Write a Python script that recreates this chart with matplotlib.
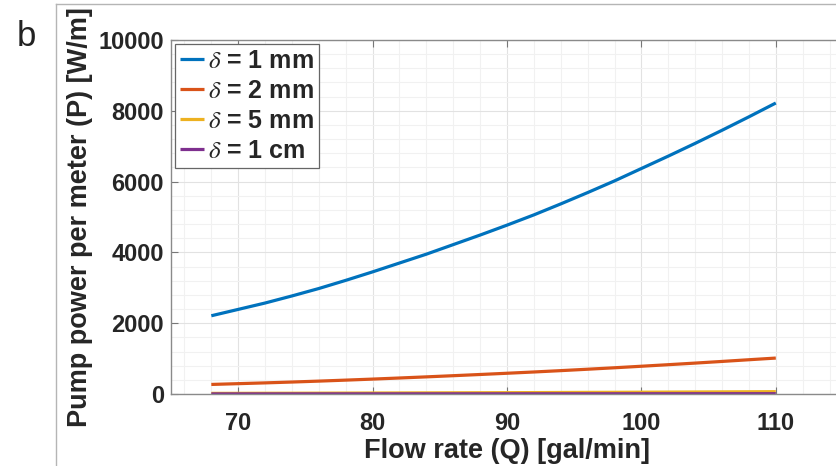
import matplotlib
matplotlib.use("Agg")
import matplotlib.pyplot as plt
from matplotlib.lines import Line2D
from matplotlib.ticker import MultipleLocator

plt.rcParams['font.family'] = ['Liberation Sans', 'DejaVu Sans']
plt.rcParams['mathtext.fontset'] = 'stix'

flow_q = [68, 70, 72, 74, 76, 78, 80, 82, 84, 86, 88, 90, 92, 94, 96, 98,
          100, 102, 104, 106, 108, 110]
p_1mm = [2210, 2390, 2570, 2770, 2980, 3210, 3450, 3700, 3950, 4220, 4490,
         4770, 5060, 5370, 5690, 6020, 6370, 6720, 7080, 7450, 7830, 8220]
p_2mm = [270, 292, 314, 338, 364, 392, 421, 452, 484, 517, 551, 586, 622,
         660, 700, 741, 784, 828, 873, 920, 968, 1015]
p_5mm = [18, 19, 21, 22, 24, 26, 28, 30, 32, 34, 36, 38, 40, 43, 46, 48,
         51, 54, 57, 60, 63, 66]
p_1cm = [2.2, 2.4, 2.6, 2.8, 3.0, 3.2, 3.5, 3.7, 4.0, 4.2, 4.5, 4.8, 5.1,
         5.4, 5.7, 6.0, 6.4, 6.7, 7.1, 7.5, 7.8, 8.2]
labels = [r'$\delta$ = 1 mm', r'$\delta$ = 2 mm', r'$\delta$ = 5 mm', r'$\delta$ = 1 cm']
colors = ['#0072BD', '#D95319', '#EDB120', '#7E2F8E']
x_ticks = [70, 80, 90, 100, 110]
y_ticks = [0, 2000, 4000, 6000, 8000, 10000]

W, H = 836, 466
fig = plt.figure(figsize=(W / 100, H / 100), dpi=100)
ax = fig.add_axes([171 / W, (H - 394) / H, 672 / W, 354 / H])

for vals, lab, c in zip([p_1mm, p_2mm, p_5mm, p_1cm], labels, colors):
    ax.plot(flow_q, vals, color=c, lw=2.3, label=lab, solid_capstyle='butt')

ax.set_xlim(65, 115)
ax.set_ylim(0, 10000)
ax.set_xticks(x_ticks)
ax.set_yticks(y_ticks)
ax.xaxis.set_minor_locator(MultipleLocator(2))
ax.yaxis.set_minor_locator(MultipleLocator(400))
ax.grid(which='major', color='#e2e2e2', lw=0.8)
ax.grid(which='minor', color='#f1f1f1', lw=0.8)
ax.set_axisbelow(True)
ax.tick_params(which='major', direction='in', length=5, width=0.8, color='#777777',
               top=True, right=True, labelsize=17, labelcolor='#262626')
ax.tick_params(which='minor', length=0, top=True, right=True)
ax.tick_params(axis='x', pad=13)
ax.tick_params(axis='y', pad=5)
for lbl in ax.get_xticklabels() + ax.get_yticklabels():
    lbl.set_fontweight('bold')
for s in ax.spines.values():
    s.set_color('#8a8a8a')
    s.set_linewidth(1.0)

ax.set_xlabel('Flow rate (Q) [gal/min]', fontsize=19.5, fontweight='bold',
              color='#262626', labelpad=2)
ax.set_ylabel('Pump power per meter (P) [W/m]', fontsize=19.5, fontweight='bold',
              color='#262626', labelpad=4)

leg = ax.legend(loc='upper left', prop={'weight': 'bold', 'size': 18},
                handlelength=0.95, handletextpad=0.18, labelspacing=0.24,
                borderpad=0.2, borderaxespad=0.15, fancybox=False, framealpha=1)
leg.get_frame().set_edgecolor('#666666')
leg.get_frame().set_linewidth(0.9)
for t in leg.get_texts():
    t.set_color('#262626')

# outer screenshot frame
fig.add_artist(Line2D([56 / W, 1.0], [1 - 4 / H, 1 - 4 / H], color='#b5b5b5', lw=1.0))
fig.add_artist(Line2D([56 / W, 56 / W], [0, 1 - 4 / H], color='#b5b5b5', lw=1.0))

fig.text(17 / W, 1 - 46 / H, 'b', fontsize=25, color='#222222', ha='left', va='baseline')

fig.savefig('out.png', dpi=100)
